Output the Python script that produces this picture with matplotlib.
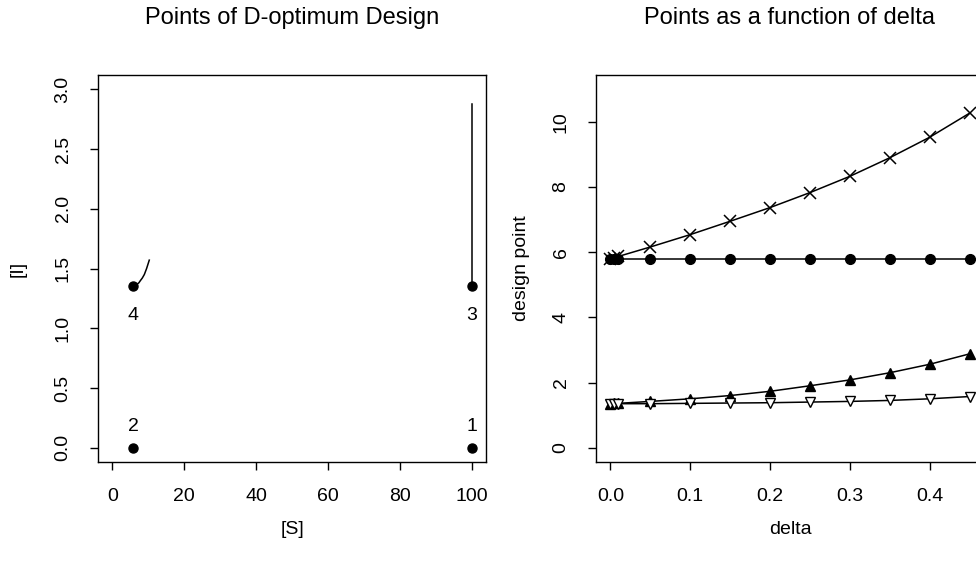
import matplotlib.pyplot as plt

plt.rcParams['font.family'] = ['Liberation Sans', 'DejaVu Sans']

# design points (S, I) and labels
ptS = [100, 5.8, 100, 5.8]
ptI = [0, 0, 1.35, 1.35]
ptLab = ["1", "2", "3", "4"]
labAbove = [True, True, False, False]

# points as a function of delta
delta = [0, 0.005, 0.01, 0.05, 0.1, 0.15, 0.2, 0.25, 0.3, 0.35, 0.4, 0.45]
S2 = [5.8, 5.8, 5.8, 5.8, 5.8, 5.8, 5.8, 5.8, 5.8, 5.8, 5.8, 5.8]
S4 = [5.8, 5.83, 5.87, 6.16, 6.54, 6.95, 7.37, 7.83, 8.33, 8.90, 9.53, 10.27]
I3 = [1.35, 1.36, 1.36, 1.42, 1.50, 1.60, 1.73, 1.90, 2.08, 2.30, 2.56, 2.88]
I4 = [1.35, 1.35, 1.35, 1.35, 1.36, 1.37, 1.38, 1.40, 1.42, 1.45, 1.50, 1.57]

fig = plt.figure(figsize=(9.76, 5.63), dpi=100)

def rstyle(ax):
    for s in ax.spines.values():
        s.set_linewidth(1.0)
    ax.tick_params(direction='out', length=6, width=1, labelsize=14, pad=13)
    for lab in ax.get_yticklabels():
        lab.set_rotation(90)
        lab.set_va('center')

# left panel
ax = fig.add_axes([98/976, 1-462/563, 388/976, 387/563])
ax.set_xlim(-4, 104)
ax.set_ylim(-0.12, 3.12)
ax.plot(ptS, ptI, 'o', color='black', ms=6.5, ls='none')
ax.plot([100]*len(I3), I3, color='black', lw=1.1)
ax.plot(S4, I4, color='black', lw=1.1)
for s, i, lab, up in zip(ptS, ptI, ptLab, labAbove):
    ax.annotate(lab, (s, i), xytext=(0, 9 if up else -15), textcoords='offset points',
                ha='center', va='bottom' if up else 'top', fontsize=14)
ax.set_xticks([0, 20, 40, 60, 80, 100])
ax.set_yticks([0.0, 0.5, 1.0, 1.5, 2.0, 2.5, 3.0])
ax.set_yticklabels(["0.0", "0.5", "1.0", "1.5", "2.0", "2.5", "3.0"])
rstyle(ax)
ax.set_xlabel("[S]", fontsize=14, labelpad=11)
ax.set_ylabel("[I]", fontsize=14, labelpad=20)
ax.set_title("Points of D-optimum Design", fontsize=17, pad=37)

# right panel (runs past the figure edge, as in the reference)
ax2 = fig.add_axes([596/976, 1-462/563, 388/976, 387/563])
ax2.set_xlim(-0.018, 0.468)
ax2.set_ylim(-0.44, 11.44)
ax2.plot(delta, S2, color='black', lw=1.1, marker='o', ms=7)
ax2.plot(delta, S4, color='black', lw=1.1, marker='x', ms=8, mew=1.1)
ax2.plot(delta, I3, color='black', lw=1.1, marker='^', ms=7)
ax2.plot(delta, I4, color='black', lw=1.1, marker='v', ms=7.5, mfc='white', mew=1.0)
ax2.set_xticks([0.0, 0.1, 0.2, 0.3, 0.4])
ax2.set_yticks([0, 2, 4, 6, 8, 10])
rstyle(ax2)
ax2.set_xlabel("delta", fontsize=14, labelpad=11)
ax2.set_ylabel("design point", fontsize=14, labelpad=16)
ax2.set_title("Points as a function of delta", fontsize=17, pad=37)

fig.savefig("out.png", dpi=100)
